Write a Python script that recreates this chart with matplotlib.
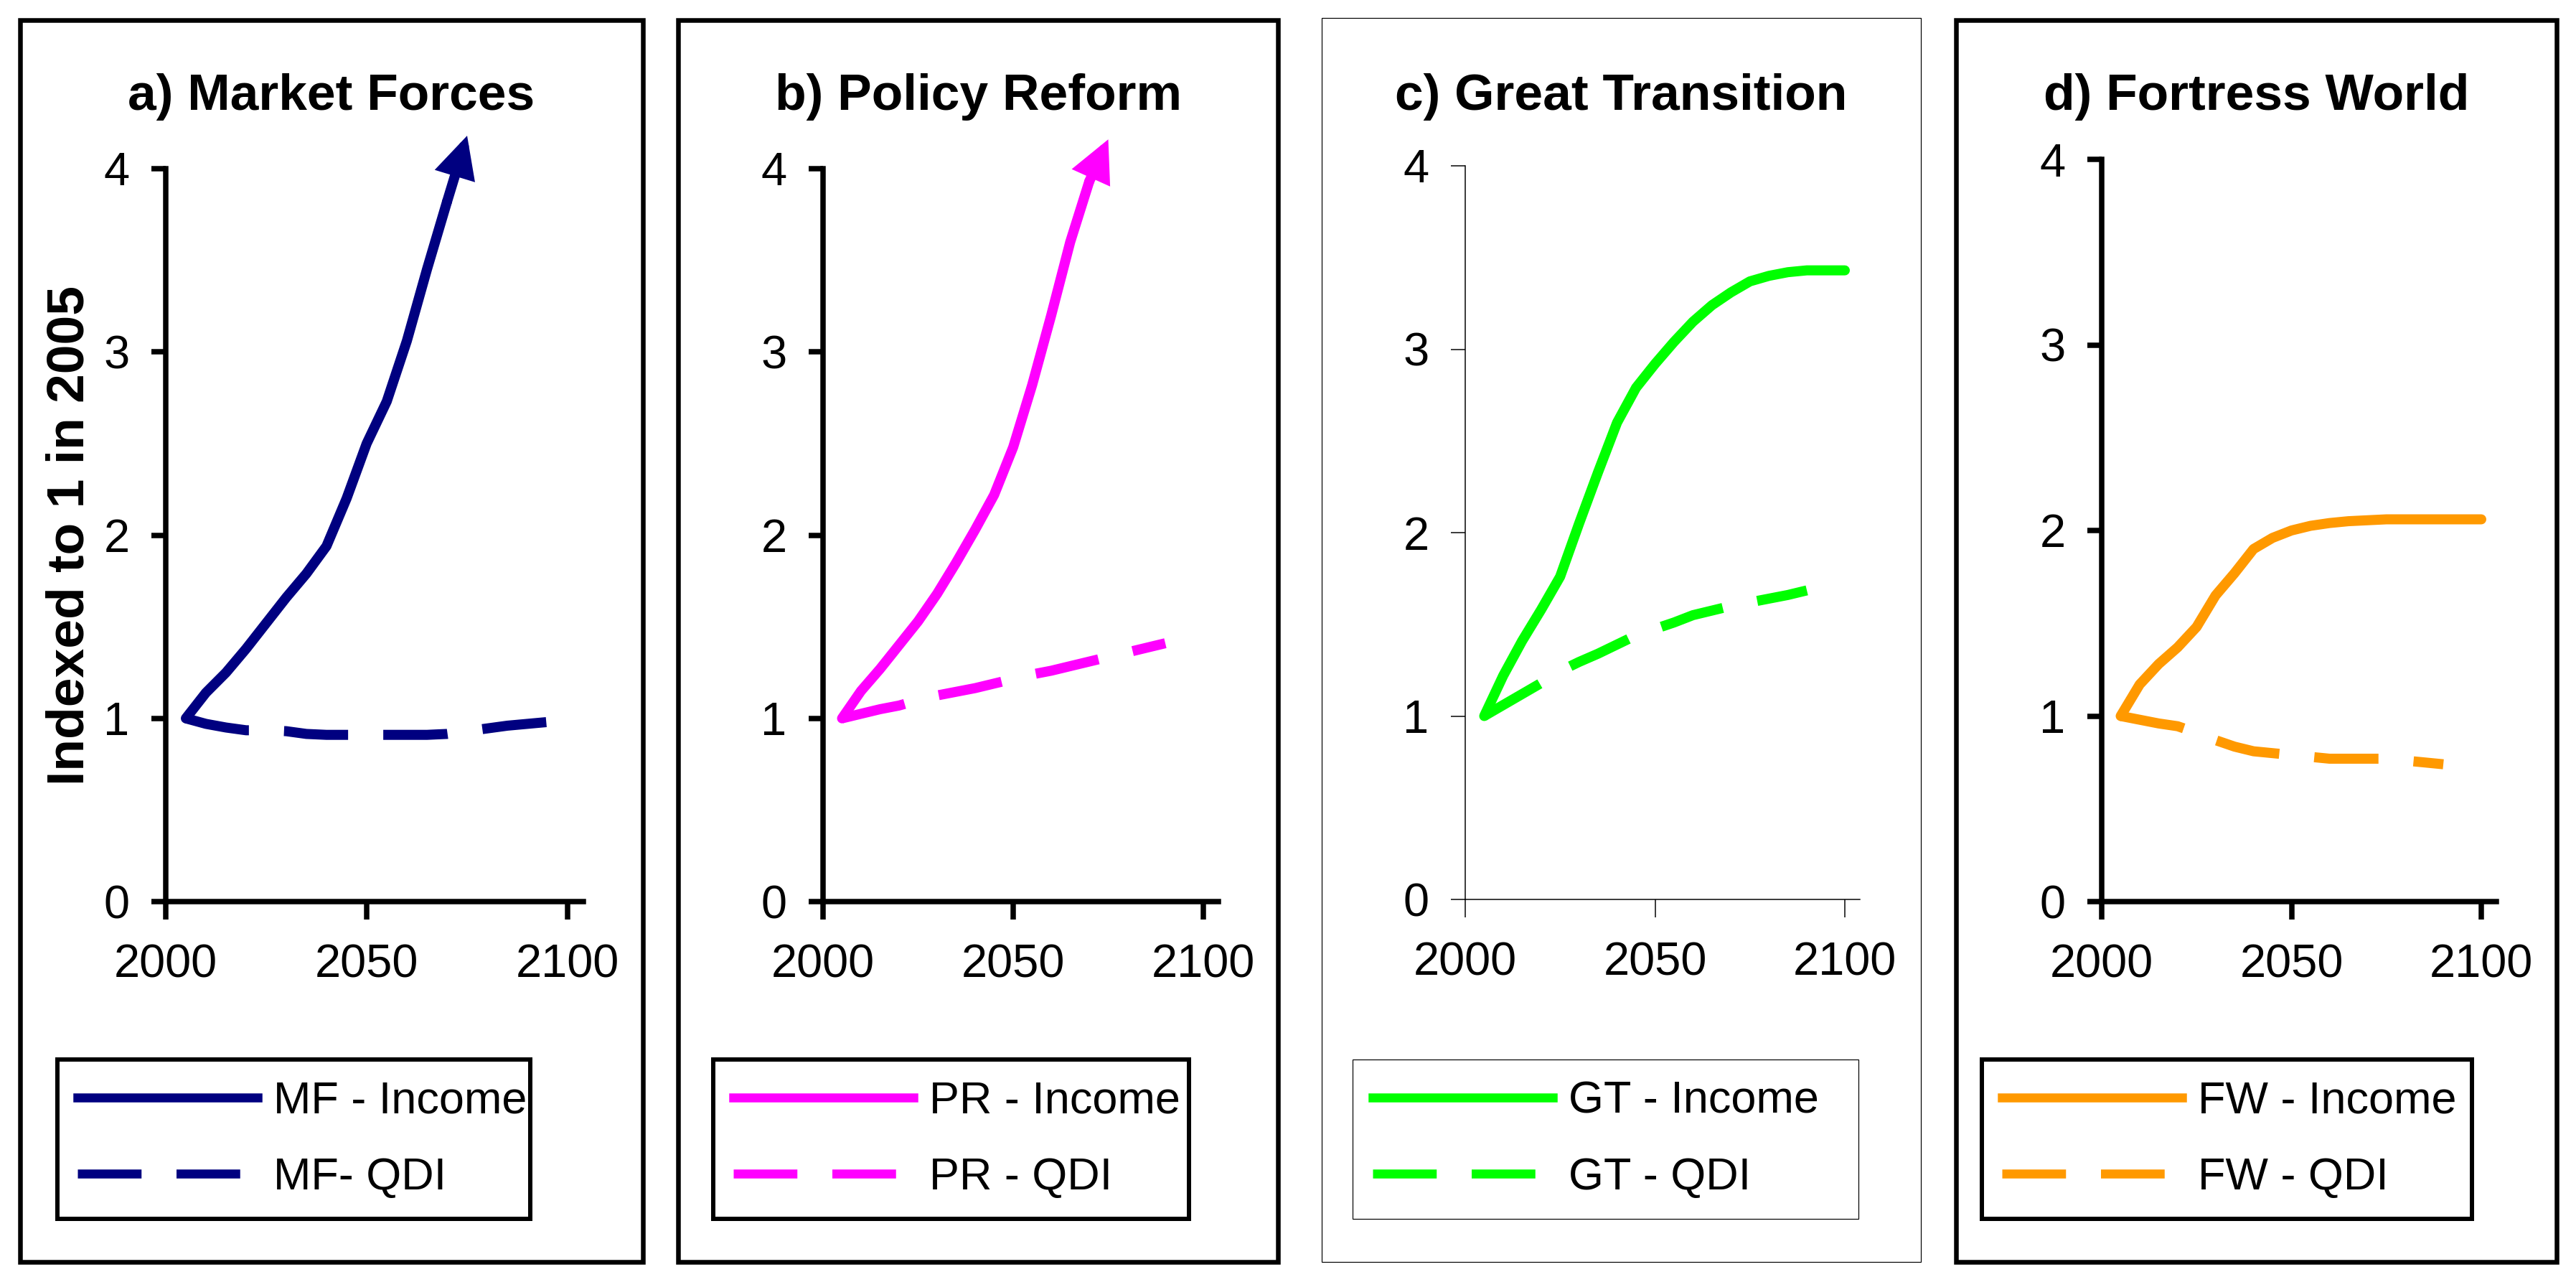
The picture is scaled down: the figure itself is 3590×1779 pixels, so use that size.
import matplotlib
matplotlib.use("Agg")
import matplotlib.pyplot as plt
from matplotlib.patches import Rectangle
from matplotlib.lines import Line2D

plt.rcParams['font.family'] = ['Liberation Sans', 'DejaVu Sans']

W, H = 3590, 1779
DPI = 200

# data (index, 2005 = 1)
mf_income_years = list(range(2005, 2080, 5))
mf_income = [1.00, 1.14, 1.25, 1.38, 1.52, 1.66, 1.79, 1.94, 2.20, 2.50, 2.73, 3.06, 3.45, 3.82, 4.18]
mf_qdi_years = list(range(2005, 2105, 5))
mf_qdi = [1.00, 0.97, 0.95, 0.935, 0.935, 0.93, 0.915, 0.91, 0.91, 0.91,
          0.91, 0.91, 0.91, 0.915, 0.93, 0.945, 0.96, 0.97, 0.98, 0.99]

pr_income_years = list(range(2005, 2080, 5))
pr_income = [1.00, 1.15, 1.27, 1.40, 1.53, 1.68, 1.85, 2.03, 2.22, 2.48, 2.82, 3.20, 3.60, 3.93, 4.16]
pr_qdi_years = list(range(2005, 2095, 5))
pr_qdi = [1.00, 1.025, 1.05, 1.07, 1.10, 1.125, 1.145, 1.165, 1.19, 1.215,
          1.24, 1.26, 1.285, 1.31, 1.335, 1.36, 1.385, 1.41]

gt_income_years = list(range(2005, 2105, 5))
gt_income = [1.00, 1.22, 1.41, 1.58, 1.76, 2.05, 2.33, 2.60, 2.79, 2.92,
             3.04, 3.15, 3.24, 3.31, 3.37, 3.40, 3.42, 3.43, 3.43, 3.43]
gt_qdi_years = list(range(2005, 2095, 5))
gt_qdi = [1.00, 1.06, 1.12, 1.18, 1.245, 1.295, 1.34, 1.39, 1.44, 1.475,
          1.51, 1.55, 1.575, 1.60, 1.62, 1.64, 1.66, 1.685]

fw_income_years = list(range(2005, 2105, 5))
fw_income = [1.00, 1.17, 1.28, 1.37, 1.48, 1.65, 1.77, 1.90, 1.96, 2.00,
             2.025, 2.04, 2.05, 2.055, 2.06, 2.06, 2.06, 2.06, 2.06, 2.06]
fw_qdi_years = list(range(2005, 2095, 5))
fw_qdi = [1.00, 0.98, 0.96, 0.945, 0.91, 0.87, 0.835, 0.81, 0.80, 0.79,
          0.78, 0.77, 0.77, 0.77, 0.77, 0.76, 0.75, 0.74]

titles = ["a) Market Forces", "b) Policy Reform", "c) Great Transition", "d) Fortress World"]
income_labels = ["MF - Income", "PR - Income", "GT - Income", "FW - Income"]
qdi_labels = ["MF- QDI", "PR - QDI", "GT - QDI", "FW - QDI"]
colors = ["#000080", "#FF00FF", "#00FF00", "#FF9900"]
x_ticks = [2000, 2050, 2100]
y_ticks = [0, 1, 2, 3, 4]

series = [
    (mf_income_years, mf_income, mf_qdi_years, mf_qdi, True),
    (pr_income_years, pr_income, pr_qdi_years, pr_qdi, True),
    (gt_income_years, gt_income, gt_qdi_years, gt_qdi, False),
    (fw_income_years, fw_income, fw_qdi_years, fw_qdi, False),
]

# layout in pixels (from top-left): box, axis x of 2000, px per year, y of 0, y of 4, legend x-range
boxes = [(28, 28, 896, 1758), (945, 28, 1781, 1758), (1842, 25, 2677, 1758), (2726, 28, 3563, 1758)]
x2000 = [231, 1147, 2042, 2929]
ppy = [5.6, 5.3, 5.29, 5.29]
y_zero = [1256, 1256, 1253, 1256]
y_four = [235, 235, 231, 222]
leg_x = [(80, 739), (994, 1657), (1885, 2590), (2762, 3445)]
heavy = [True, True, False, True]

px = 72.0 / DPI  # points per pixel
fig = plt.figure(figsize=(W / DPI, H / DPI), dpi=DPI)

line_lw = 14 * px
leg_lw = 12.5 * px
dash = (0, (6.4, 3.5))
leg_dash = (0, (7.1, 3.9))

for i in range(4):
    bx0, by0, bx1, by1 = boxes[i]
    blw = 6.5 * px if heavy[i] else 1.2 * px
    fig.patches.append(Rectangle((bx0 / W, 1 - by1 / H), (bx1 - bx0) / W, (by1 - by0) / H,
                                 transform=fig.transFigure, fill=False, edgecolor='black',
                                 linewidth=blw, joinstyle='miter'))
    fig.text((bx0 + bx1) / 2 / W, 1 - 153 / H, titles[i], ha='center', va='baseline',
             fontsize=25.7, fontweight='bold')

    left = x2000[i] / W
    width = 104 * ppy[i] / W
    bottom = 1 - y_zero[i] / H
    height = (y_zero[i] - y_four[i]) / H
    ax = fig.add_axes([left, bottom, width, height])
    ax.set_xlim(2000, 2104)
    ax.set_ylim(0, 4)
    for s in ['top', 'right']:
        ax.spines[s].set_visible(False)
    slw = 7.5 * px if heavy[i] else 1.5 * px
    for s in ['left', 'bottom']:
        ax.spines[s].set_linewidth(slw)
    ax.set_xticks(x_ticks)
    ax.set_yticks(y_ticks)
    ax.tick_params(axis='x', direction='out', length=25 * px, width=slw, pad=12, labelsize=23.4)
    ax.tick_params(axis='y', direction='out', length=20 * px, width=slw, pad=11, labelsize=23.4)
    ax.patch.set_visible(False)

    iy, iv, qy, qv, arrow = series[i]
    col = colors[i]
    if arrow:
        ax.plot(iy[:-1], iv[:-1], color=col, lw=line_lw, solid_joinstyle='round',
                solid_capstyle='round', clip_on=False)
        ax.annotate('', xy=(iy[-1], iv[-1]), xytext=(iy[-2], iv[-2]),
                    arrowprops=dict(arrowstyle='-|>,head_length=13,head_width=6.5',
                                    mutation_scale=1, color=col, lw=line_lw,
                                    shrinkA=0, shrinkB=0, joinstyle='miter'),
                    annotation_clip=False)
    else:
        ax.plot(iy, iv, color=col, lw=line_lw, solid_joinstyle='round',
                solid_capstyle='round', clip_on=False)
    ax.plot(qy, qv, color=col, lw=line_lw, linestyle=dash, dash_capstyle='butt', clip_on=False)

    lx0, lx1 = leg_x[i]
    handles = [Line2D([], [], color=col, lw=leg_lw),
               Line2D([], [], color=col, lw=leg_lw, linestyle=leg_dash, dash_capstyle='butt')]
    leg = ax.legend(handles, [income_labels[i], qdi_labels[i]], loc='upper left',
                    bbox_to_anchor=(lx0 / W, 1 - 1478 / H, (lx1 - lx0) / W, 0.001),
                    bbox_transform=fig.transFigure, mode='expand', borderaxespad=0,
                    fontsize=22.7, handlelength=3.98, handletextpad=0.35, borderpad=0.45,
                    labelspacing=0.75, fancybox=False, framealpha=1, edgecolor='black')
    leg.get_frame().set_linewidth(6.0 * px if heavy[i] else 1.2 * px)

fig.text(98 / W, 1 - 746 / H, "Indexed to 1 in 2005", rotation=90, ha='center', va='center',
         fontsize=26.4, fontweight='bold')

fig.savefig("out.png", dpi=DPI)
